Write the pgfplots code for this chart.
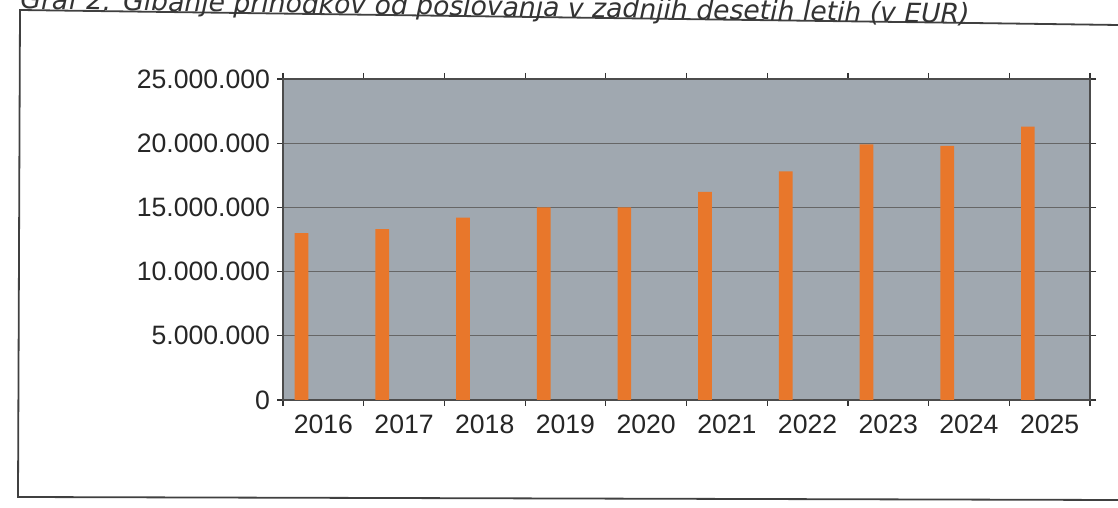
\documentclass[border=0pt]{standalone}
\usepackage{pgfplots}
\pgfplotsset{compat=1.18}
\usepackage{fontspec}
\setmainfont{Liberation Sans}
\newfontfamily\titlefont{DejaVu Sans}
\definecolor{bg}{HTML}{A0A8B0}
\definecolor{barc}{HTML}{E8772B}
\begin{document}
\begin{tikzpicture}
\useasboundingbox (0,0) rectangle (559pt,254pt);
\fill[white] (0,0) rectangle (559pt,254pt);
\draw[line width=0.9pt, black!75] (559pt,241.5pt) -- (10pt,249pt) -- (9pt,5.5pt) -- (559pt,4pt);
\node[anchor=base west, rotate=-0.85, font=\titlefont\itshape\fontsize{13.3}{15}\selectfont, text=black!80, inner sep=0pt] at (10pt,249.5pt) {Graf 2: Gibanje prihodkov od poslovanja v zadnjih desetih letih (v EUR)};
\begin{axis}[
  at={(141.5pt,54pt)}, anchor=south west,
  scale only axis, width=403.5pt, height=160.5pt,
  xmin=-0.5, xmax=9.5, ymin=0, ymax=25000000,
  axis background/.style={fill=bg},
  ybar, bar width=0.17,
  xtick={0,1,2,3,4,5,6,7,8,9},
  xticklabels={2016,2017,2018,2019,2020,2021,2022,2023,2024,2025},
  major x tick style={draw=none},
  minor xtick={-0.5,0.5,1.5,2.5,3.5,4.5,5.5,6.5,7.5,8.5,9.5},
  minor tick length=3pt,
  major tick length=3pt,
  ytick={0,5000000,10000000,15000000,20000000,25000000},
  scaled y ticks=false,
  yticklabel style={/pgf/number format/.cd, fixed, 1000 sep={.}},
  /pgf/number format/assume math mode=true,
  ymajorgrids, grid style={black!60, line width=0.6pt},
  tick align=outside,
  tick style={black!80, line width=0.6pt},
  ticklabel style={font=\fontsize{13.3}{15}\selectfont, text=black!85},
  axis line style={black!70, line width=0.7pt},
  xticklabel style={yshift=-1pt},
]
\addplot[fill=barc, draw=none] table[x=x, y=y] {
x y
-0.27 13000000
0.73 13300000
1.73 14200000
2.73 15000000
3.73 15000000
4.73 16200000
5.73 17800000
6.73 19900000
7.73 19800000
8.73 21300000
};
\end{axis}
\end{tikzpicture}
\end{document}
